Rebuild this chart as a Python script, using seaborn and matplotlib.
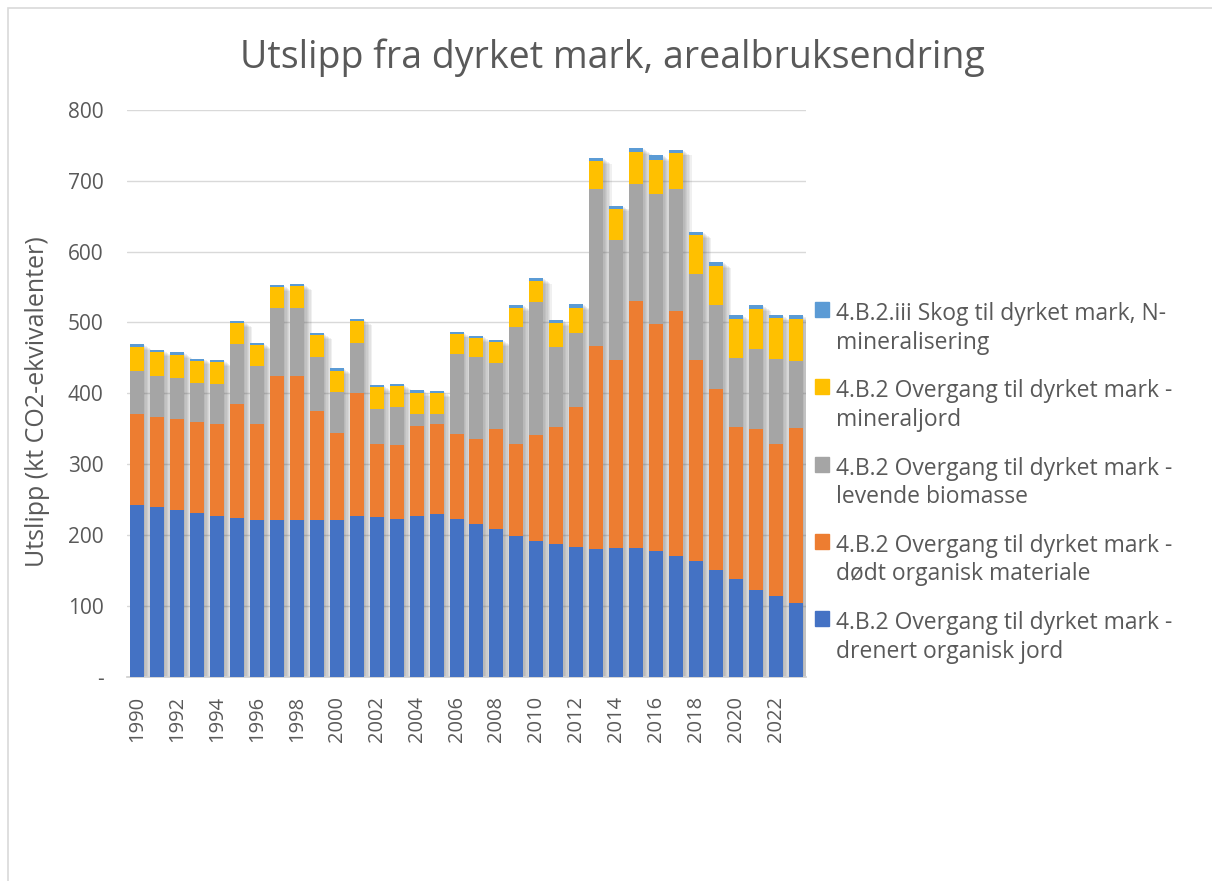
import matplotlib
matplotlib.use("Agg")
import matplotlib.pyplot as plt
import matplotlib.patheffects as pe
from matplotlib.patches import Rectangle
import numpy as np
import seaborn as sns

years = list(range(1990, 2024))

# kt CO2-ekvivalenter (bottom to top of each stack)
drenert = [242, 239, 235, 231, 227, 224, 221, 221, 221, 221, 221,
           227, 225, 223, 227, 230, 223, 216, 209, 198, 191,
           187, 183, 180, 181, 181, 177, 170, 163, 150, 138,
           122, 113, 104]
dodt = [129, 128, 128, 128, 129, 161, 135, 204, 204, 154, 123,
        173, 104, 104, 127, 126, 119, 119, 140, 131, 150,
        165, 197, 287, 266, 349, 321, 346, 284, 256, 214,
        228, 216, 247]
levende = [60, 58, 59, 55, 57, 84, 83, 95, 96, 76, 58,
           71, 49, 53, 17, 15, 114, 116, 94, 164, 188,
           114, 105, 221, 170, 165, 183, 172, 122, 119, 98,
           113, 119, 94]
mineraljord = [34, 33, 32, 32, 31, 30, 29, 30, 30, 31, 30,
               31, 31, 30, 30, 29, 28, 27, 29, 28, 30,
               33, 36, 40, 43, 46, 49, 51, 54, 54, 55,
               56, 58, 60]
n_mineral = [4, 3, 4, 3, 3, 3, 3, 3, 3, 3, 3,
             3, 3, 3, 3, 3, 3, 3, 3, 3, 4,
             4, 5, 4, 5, 5, 6, 5, 5, 6, 5,
             6, 5, 6]

series_labels = [
    "4.B.2 Overgang til dyrket mark -\ndrenert organisk jord",
    "4.B.2 Overgang til dyrket mark -\ndødt organisk materiale",
    "4.B.2 Overgang til dyrket mark -\nlevende biomasse",
    "4.B.2 Overgang til dyrket mark -\nmineraljord",
    "4.B.2.iii Skog til dyrket mark, N-\nmineralisering",
]
series_colors = ["#4472C4", "#ED7D31", "#A5A5A5", "#FFC000", "#5B9BD5"]

ytick_vals = list(range(0, 801, 100))
ytick_labels = ["-"] + [str(v) for v in ytick_vals[1:]]

TXT = "#595959"

sns.set_theme(style="white")
plt.rcParams["font.family"] = ["Open Sans", "DejaVu Sans"]

W, H = 1212, 881
fig = plt.figure(figsize=(W / 100, H / 100), dpi=100)
ax = fig.add_axes([127 / W, 1 - 676.5 / H, (806 - 127) / W, (676.5 - 110) / H])

year_labels = [str(y) for y in years]
layers = [drenert, dodt, levende, mineraljord, n_mineral]

# soft drop shadow behind every full stack (a few faint offset copies ~ blur)
shadow = [pe.SimplePatchShadow(offset=(d, -0.7 * d), shadow_rgbFace="#606060", alpha=0.09)
          for d in (1, 2, 3, 4, 5, 6)]
totals = np.sum(np.array(layers), axis=0)
sns.barplot(x=year_labels, y=totals, color="white", width=0.7, saturation=1,
            errorbar=None, ax=ax, linewidth=0, zorder=2,
            path_effects=shadow + [pe.Normal()])

bottom = np.zeros(len(years))
for vals, col in zip(layers, series_colors):
    sns.barplot(x=year_labels, y=vals, bottom=bottom, color=col, width=0.7,
                saturation=1, errorbar=None, ax=ax, linewidth=0, zorder=3)
    bottom = bottom + np.array(vals)

ax.set_xlim(-0.5, len(years) - 0.5)
ax.set_ylim(0, 800)
ax.set_yticks(ytick_vals, labels=ytick_labels)
ax.set_xticks(np.arange(0, len(years), 2), labels=year_labels[::2], rotation=90)
ax.tick_params(axis="both", length=0, labelcolor=TXT)
ax.tick_params(axis="y", pad=17, labelsize=15)
ax.tick_params(axis="x", pad=14, labelsize=14.5)
ax.yaxis.grid(True, color="#D9D9D9", linewidth=1)
ax.set_axisbelow(True)
for side in ["top", "right", "left"]:
    ax.spines[side].set_visible(False)
ax.spines["bottom"].set_color("#D0D0D0")
ax.set_xlabel("")
ax.set_ylabel("Utslipp (kt CO2-ekvivalenter)", fontsize=18, color=TXT)
ax.yaxis.set_label_coords(-0.113, 0.485)

fig.text(612 / W, 1 - 58 / H, "Utslipp fra dyrket mark, arealbruksendring",
         ha="center", va="center", fontsize=27, color=TXT)

handles = [Rectangle((0, 0), 1, 1, color=c) for c in series_colors]
leg = fig.legend(handles[::-1], series_labels[::-1], loc="upper left",
                 bbox_to_anchor=(806 / W, 1 - 293 / H), frameon=False, fontsize=16.5,
                 handlelength=0.62, handleheight=0.62, handletextpad=0.3,
                 labelspacing=1.08, labelcolor=TXT, borderaxespad=0)
for t in leg.get_texts():
    t.set_linespacing(1.25)
# put the colour box beside the first line of each label
for col in leg._legend_handle_box.get_children():
    for row in col.get_children():
        row.align = "top"

# light frame of the chart area (only left and top edges visible)
fig.add_artist(Rectangle((8 / W, -0.2), 1.2, 1.2 - 8 / H, transform=fig.transFigure,
                         fill=False, edgecolor="#D9D9D9", linewidth=1.2))

fig.savefig("out.png", dpi=100)
